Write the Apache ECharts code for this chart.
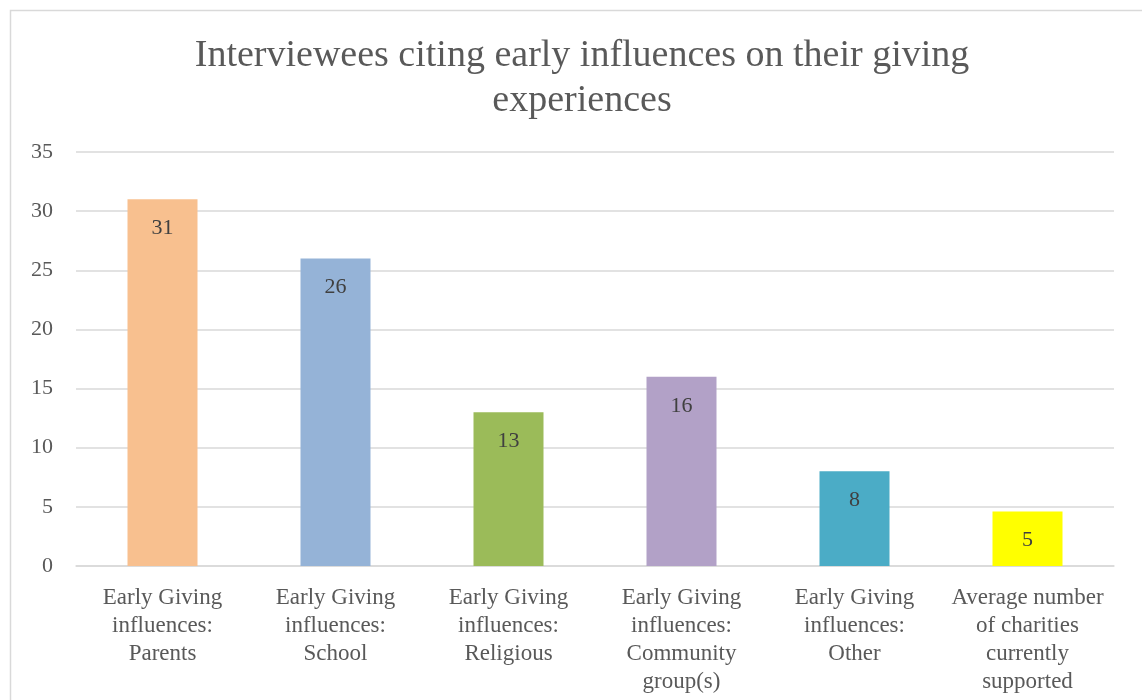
<!DOCTYPE html>
<html><head><meta charset="utf-8">
<script src="https://cdn.jsdelivr.net/npm/echarts@6/dist/echarts.min.js"></script>
<style>html,body{margin:0;padding:0;background:#fff}#c{width:1142px;height:700px}</style>
</head><body><div id="c"></div>
<script>
const titleText = 'Interviewees citing early influences on their giving\nexperiences';
const categories = [
  'Early Giving\ninfluences:\nParents',
  'Early Giving\ninfluences:\nSchool',
  'Early Giving\ninfluences:\nReligious',
  'Early Giving\ninfluences:\nCommunity\ngroup(s)',
  'Early Giving\ninfluences:\nOther',
  'Average number\nof charities\ncurrently\nsupported'
];
const values = [31, 26, 13, 16, 8, 4.6];
const colors = ['#F8C08F', '#95B3D7', '#9BBB59', '#B2A1C7', '#4BACC6', '#FFFF00'];
const yTicks = {min: 0, max: 35, interval: 5};

const font = '"Liberation Serif", "DejaVu Serif", serif';
const chart = echarts.init(document.getElementById('c'));
chart.setOption({
  animation: false,
  title: {
    text: titleText, left: 577, textAlign: 'center', top: 29,
    textStyle: {fontFamily: font, fontSize: 38, fontWeight: 'normal', color: '#595959', lineHeight: 45}
  },
  graphic: [{type: 'rect', shape: {x: 10.5, y: 10.5, width: 1200, height: 800},
    style: {fill: 'none', stroke: '#d9d9d9', lineWidth: 1.5}, silent: true}],
  grid: {left: 76, right: 28, top: 152, bottom: 134},
  xAxis: {
    type: 'category', data: categories,
    axisLine: {lineStyle: {color: '#d9d9d9', width: 1.5}},
    axisTick: {show: false},
    axisLabel: {interval: 0, fontFamily: font, fontSize: 23, color: '#595959', lineHeight: 28, margin: 18}
  },
  yAxis: {
    type: 'value', min: yTicks.min, max: yTicks.max, interval: yTicks.interval,
    axisLine: {show: false}, axisTick: {show: false},
    splitLine: {lineStyle: {color: '#d9d9d9', width: 1.5}},
    axisLabel: {fontFamily: font, fontSize: 22, color: '#595959', margin: 23}
  },
  series: [{
    type: 'bar', barWidth: 70,
    data: values.map((v, i) => ({value: v, itemStyle: {color: colors[i]}})),
    label: {show: true, position: 'insideTop', distance: 18, fontFamily: font, fontSize: 22, color: '#404040',
      formatter: p => Math.round(p.value)}
  }]
});
</script></body></html>
